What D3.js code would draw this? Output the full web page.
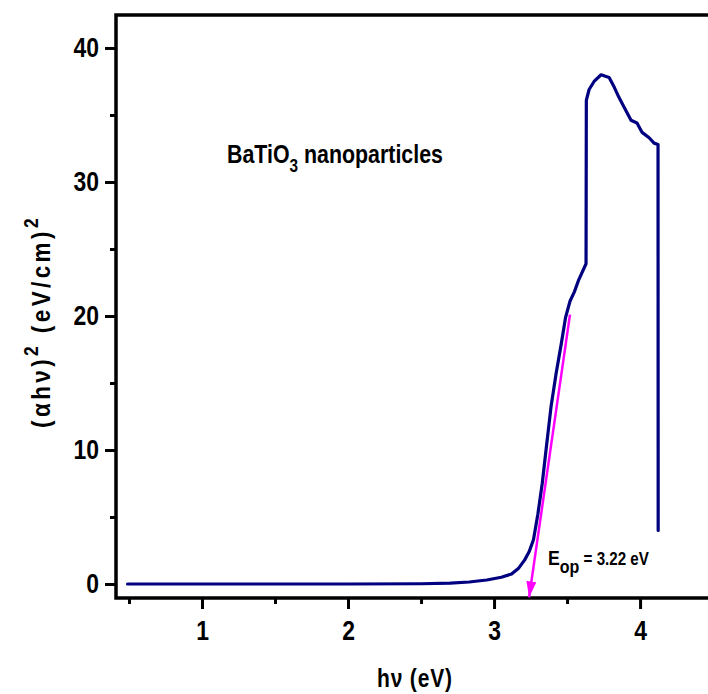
<!DOCTYPE html>
<html><head><meta charset="utf-8">
<script src="https://cdn.jsdelivr.net/npm/d3@7/dist/d3.min.js"></script>
<style>
html,body{margin:0;padding:0;background:#fff;}
svg{display:block;}
text{font-family:'Liberation Sans','Arial',sans-serif;font-weight:bold;fill:#000;}
</style></head>
<body><svg id="c" width="708" height="694"></svg>
<script>
// Data
const hv = [0.49, 1.0, 1.5, 2.0, 2.5, 2.7, 2.83, 2.95, 3.05, 3.12, 3.17, 3.21, 3.24, 3.27, 3.30, 3.33, 3.356, 3.39, 3.425, 3.46, 3.49, 3.52, 3.55, 3.58, 3.63, 3.632, 3.651, 3.685, 3.733, 3.788, 3.822, 3.856, 3.89, 3.938, 3.979, 4.014, 4.062, 4.096, 4.123, 4.124];
const ahv2 = [0, 0, 0, 0, 0.02, 0.06, 0.15, 0.3, 0.5, 0.75, 1.2, 1.8, 2.4, 3.3, 5.2, 7.5, 10, 13.2, 15.7, 17.9, 19.9, 21.1, 21.8, 22.7, 23.9, 36.1, 36.9, 37.5, 38.0, 37.8, 37.1, 36.3, 35.6, 34.6, 34.4, 33.7, 33.3, 32.9, 32.8, 4.0];
const xMajor = [1, 2, 3, 4];
const xMinor = [0.5, 1.5, 2.5, 3.5, 4.5];
const yMajor = [0, 10, 20, 30, 40];
const yMinor = [5, 15, 25, 35];
const fitStart = [3.52, 20.1];
const fitEnd = [3.24, -1.0];
const gapLabel = "3.22 eV";

const NARROW = 0.82;
const svg = d3.select("#c");
const x = d3.scaleLinear().domain([0.411, 4.52]).range([116, 716]);
const y = d3.scaleLinear().domain([-1.045, 42.46]).range([598, 15]);

function narrowAt(node, ax, s) {
  const prev = node.getAttribute("transform") || "";
  node.setAttribute("transform", prev + ` translate(${ax},0) scale(${s},1) translate(${-ax},0)`);
}
function fitWidth(sel, ax, target) {
  const w = sel.node().getBBox().width;
  narrowAt(sel.node(), ax, target / w);
}

// minor ticks
svg.append("g").attr("transform","translate(0,598)")
  .call(d3.axisBottom(x).tickValues(xMinor).tickSize(6).tickFormat(""))
  .call(g=>g.select(".domain").remove())
  .call(g=>g.selectAll("line").attr("stroke","#000").attr("stroke-width",3));
svg.append("g").attr("transform","translate(116,0)")
  .call(d3.axisLeft(y).tickValues(yMinor).tickSize(6).tickFormat(""))
  .call(g=>g.select(".domain").remove())
  .call(g=>g.selectAll("line").attr("stroke","#000").attr("stroke-width",3));
// major ticks
svg.append("g").attr("transform","translate(0,598)")
  .call(d3.axisBottom(x).tickValues(xMajor).tickSize(11).tickPadding(11).tickFormat(d3.format("d")))
  .call(g=>g.select(".domain").remove())
  .call(g=>g.selectAll("line").attr("stroke","#000").attr("stroke-width",3))
  .call(g=>g.selectAll("text").attr("font-size",28).attr("font-family",null).attr("fill","#000")
     .each(function(){ narrowAt(this, 0, NARROW); }));
svg.append("g").attr("transform","translate(116,0)")
  .call(d3.axisLeft(y).tickValues(yMajor).tickSize(11).tickPadding(6).tickFormat(d3.format("d")))
  .call(g=>g.select(".domain").remove())
  .call(g=>g.selectAll("line").attr("stroke","#000").attr("stroke-width",3))
  .call(g=>g.selectAll("text").attr("font-size",28).attr("font-family",null).attr("fill","#000")
     .each(function(){ narrowAt(this, +this.getAttribute("x"), NARROW); }));

// frame
const [x0,x1] = x.range(), [y0,y1] = y.range();
svg.append("path").attr("d",`M${x0},${y1}H${x1}V${y0}H${x0}Z`)
  .attr("fill","none").attr("stroke","#000").attr("stroke-width",3.5);

// curve
const pts = hv.map((d,i)=>[d, ahv2[i]]);
svg.append("path").datum(pts)
  .attr("d", d3.line().x(d=>x(d[0])).y(d=>y(d[1])))
  .attr("fill","none").attr("stroke","#000080").attr("stroke-width",3.2)
  .attr("stroke-linejoin","round").attr("stroke-linecap","round");

// fit arrow
const defs = svg.append("defs");
defs.append("marker").attr("id","ah").attr("markerUnits","userSpaceOnUse")
  .attr("viewBox","0 0 16 10").attr("refX",16).attr("refY",5)
  .attr("markerWidth",16).attr("markerHeight",10).attr("orient","auto")
  .append("path").attr("d","M0,0L16,5L0,10Z").attr("fill","#FF00FF");
svg.append("line")
  .attr("x1",x(fitStart[0])).attr("y1",y(fitStart[1]))
  .attr("x2",x(fitEnd[0])).attr("y2",y(fitEnd[1]))
  .attr("stroke","#FF00FF").attr("stroke-width",2.5).attr("marker-end","url(#ah)");

// annotation
const t1 = svg.append("text").attr("x",548).attr("y",565).attr("font-size",21);
t1.append("tspan").text("E");
t1.append("tspan").attr("font-size",19).attr("dy",8).text("op");
t1.append("tspan").attr("font-size",18).attr("dy",-8).text(" = " + gapLabel);
fitWidth(t1, 548, 101);

const t2 = svg.append("text").attr("x",227).attr("y",163).attr("font-size",25);
t2.append("tspan").text("BaTiO");
t2.append("tspan").attr("font-size",18).attr("dy",9).text("3");
t2.append("tspan").attr("dy",-9).text(" nanoparticles");
fitWidth(t2, 227, 216);

// axis labels
const xl = svg.append("text").attr("x",377).attr("y",687).attr("font-size",25)
  .attr("letter-spacing",1).text("h\u03bd (eV)");
fitWidth(xl, 377, 76);
const yl = svg.append("text").attr("transform","translate(50,428) rotate(-90)")
  .attr("x",0).attr("y",0).attr("font-size",26).attr("letter-spacing",4);
yl.append("tspan").text("(\u03b1h\u03bd)");
yl.append("tspan").attr("font-size",20).attr("dy",-12).text("2");
yl.append("tspan").attr("dy",12).text(" (eV/cm)");
yl.append("tspan").attr("font-size",20).attr("dy",-12).text("2");
fitWidth(yl, 0, 213);
</script></body></html>
